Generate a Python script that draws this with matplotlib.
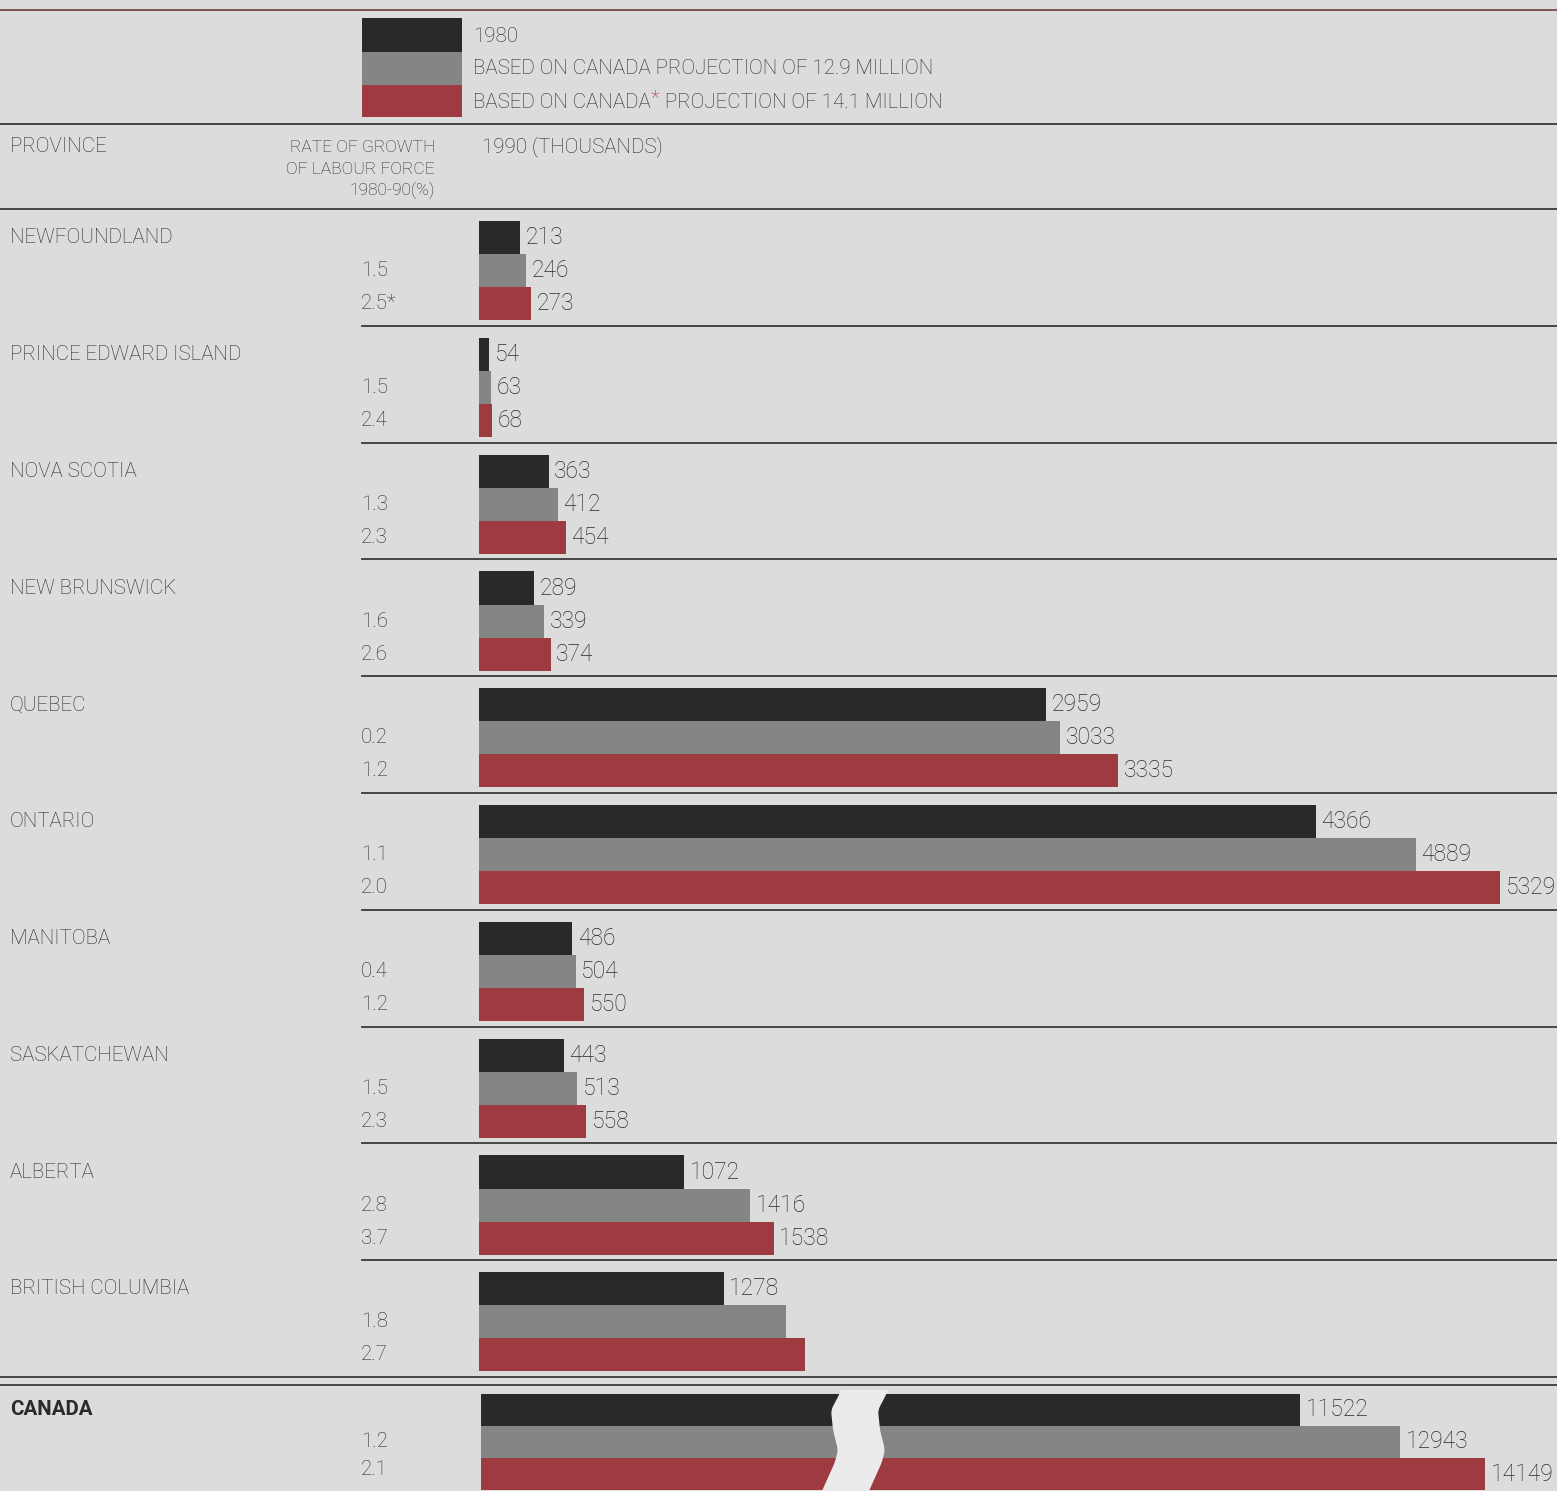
import numpy as np
import matplotlib.pyplot as plt
from matplotlib.patches import Rectangle, Polygon
from matplotlib.lines import Line2D

# -----------------------------
# data (thousands)
# -----------------------------
provinces = ["NEWFOUNDLAND", "PRINCE EDWARD ISLAND", "NOVA SCOTIA", "NEW BRUNSWICK",
             "QUEBEC", "ONTARIO", "MANITOBA", "SASKATCHEWAN", "ALBERTA", "BRITISH COLUMBIA"]
lf_1980 = [213, 54, 363, 289, 2959, 4366, 486, 443, 1072, 1278]
lf_1990_low = [246, 63, 412, 339, 3033, 4889, 504, 513, 1416, 1600]
lf_1990_high = [273, 68, 454, 374, 3335, 5329, 550, 558, 1538, 1700]
# BC projections are not printed in the source
show_low = [True] * 9 + [False]
show_high = [True] * 9 + [False]
rate_low = ["1.5", "1.5", "1.3", "1.6", "0.2", "1.1", "0.4", "1.5", "2.8", "1.8"]
rate_high = ["2.5*", "2.4", "2.3", "2.6", "1.2", "2.0", "1.2", "2.3", "3.7", "2.7"]

canada_vals = [11522, 12943, 14149]
canada_rates = ["1.2", "2.1"]

legend_labels = ["1980", "BASED ON CANADA PROJECTION OF 12.9 MILLION",
                 "BASED ON CANADA", "*", " PROJECTION OF 14.1 MILLION"]

# -----------------------------
# style
# -----------------------------
W, H = 1557, 1491
bg = "#dddcdc"
c_black = "#2b2829"
c_gray = "#868585"
c_red = "#9d3b40"
c_text = "#2a2a2a"
colors = [c_black, c_gray, c_red]

plt.rcParams['font.family'] = ['Roboto', 'DejaVu Sans']
plt.rcParams['font.weight'] = 'light'
fs = 14.8
fs_val = 16.5


def fx(px):
    return px / W


def fy(py):
    return 1 - py / H


fig = plt.figure(figsize=(W / 100, H / 100), dpi=100, facecolor=bg)


def rule(x0, x1, y, lw=1.3, color="#3a3a3a"):
    fig.add_artist(Line2D([fx(x0), fx(x1)], [fy(y), fy(y)], color=color, lw=lw,
                          transform=fig.transFigure))


# rules
rule(0, W, 10, lw=1.2, color="#6e3a3f")
rule(0, W, 124)
rule(0, W, 209)
top, pitch = 209, 116.8
for i in range(9):
    rule(362, W, top + (i + 1) * pitch)
rule(0, W, 1377)
rule(0, W, 1385)

# -----------------------------
# province bars
# -----------------------------
offs = [0.245, 0.528, 0.811]
bh = 0.283
ax = fig.add_axes([fx(479), fy(1377), fx(W) - fx(479), (1377 - 209) / H])
ax.set_xlim(0, 5626)
ax.set_ylim(10, 0)
ax.axis('off')

series = [lf_1980, lf_1990_low, lf_1990_high]
shows = [[True] * 10, show_low, show_high]
for k in range(3):
    ypos = np.arange(10) + offs[k]
    ax.barh(ypos, series[k], height=bh, color=colors[k], edgecolor='none')
    for i, v in enumerate(series[k]):
        if shows[k][i]:
            ax.annotate(str(v), xy=(v, ypos[i]), xytext=(4, 0), textcoords='offset points',
                        va='center', ha='left', fontsize=fs_val, color=c_text)

for i, name in enumerate(provinces):
    fig.text(fx(10), fy(top + (i + offs[0]) * pitch), name, fontsize=fs, color=c_text, va='center')
    fig.text(fx(361), fy(top + (i + offs[1]) * pitch), rate_low[i], fontsize=fs, color=c_text, va='center')
    fig.text(fx(361), fy(top + (i + offs[2]) * pitch), rate_high[i], fontsize=fs, color=c_text, va='center')

# -----------------------------
# legend
# -----------------------------
for k, (y0, y1) in enumerate([(18, 52), (52, 85), (85, 117)]):
    fig.add_artist(Rectangle((fx(362), fy(y1)), fx(462) - fx(362), (y1 - y0) / H,
                             transform=fig.transFigure, facecolor=colors[k], edgecolor='none'))
fig.text(fx(473), fy(36), legend_labels[0], fontsize=fs, color=c_text, va='center')
fig.text(fx(473), fy(69), legend_labels[1], fontsize=fs, color=c_text, va='center')
t1 = fig.text(fx(473), fy(102), legend_labels[2], fontsize=fs, color=c_text, va='center')
ax.annotate(legend_labels[3], xy=(1, 0.7), xycoords=t1, va='center', fontsize=fs,
            color=c_red, annotation_clip=False)
ax.annotate(legend_labels[4], xy=(1, 0), xycoords=t1, xytext=(7, 0), textcoords='offset points',
            va='bottom', fontsize=fs, color=c_text, annotation_clip=False)

# header
fig.text(fx(10), fy(147), "PROVINCE", fontsize=fs, color=c_text, va='center')
for txt, yy in zip(["RATE OF GROWTH", "OF LABOUR FORCE", "1980-90(%)"], [147, 169, 190]):
    fig.text(fx(435), fy(yy), txt, fontsize=12.5, color=c_text, va='center', ha='right')
fig.text(fx(482), fy(147), "1990 (THOUSANDS)", fontsize=fs, color=c_text, va='center')

# -----------------------------
# Canada (broken axis)
# -----------------------------
c_top = 1385
c_offs = [0.214, 0.488, 0.762]
c_h = 0.275
ylim_c = (H - c_top) / pitch
slope = 0.0705  # px per thousand on the right part
r_left, r_right = 850, W
r_x0 = canada_vals[0] - (1300 - r_left) / slope
r_x1 = r_x0 + (r_right - r_left) / slope

axl = fig.add_axes([fx(481), 0, fx(860) - fx(481), (H - c_top) / H])
axl.set_xlim(0, (860 - 481) / slope)
axr = fig.add_axes([fx(r_left), 0, fx(r_right) - fx(r_left), (H - c_top) / H])
axr.set_xlim(r_x0, r_x1)
for a in (axl, axr):
    a.set_ylim(ylim_c, 0)
    a.axis('off')
    for k in range(3):
        a.barh(c_offs[k], canada_vals[k], height=c_h, color=colors[k], edgecolor='none')
for k in range(3):
    axr.annotate(str(canada_vals[k]), xy=(canada_vals[k], c_offs[k]), xytext=(4, 0),
                 textcoords='offset points', va='center', ha='left', fontsize=fs_val, color=c_text)

fig.text(fx(10), fy(c_top + c_offs[0] * pitch), "CANADA", fontsize=fs, color=c_text,
         va='center', fontweight='bold')
fig.text(fx(361), fy(c_top + c_offs[1] * pitch), canada_rates[0], fontsize=fs, color=c_text, va='center')
fig.text(fx(361), fy(c_top + 0.72 * pitch), canada_rates[1], fontsize=fs, color=c_text, va='center')

# white wavy break
wy = np.array([1390, 1395, 1410, 1430, 1450, 1462, 1491])
wx = np.array([841, 839, 831, 833, 838, 835, 822])
yy = np.linspace(1390, 1491, 80)
left = np.convolve(np.interp(yy, wy, wx), np.ones(7) / 7, mode='same')
left[:3] = np.interp(yy[:3], wy, wx)
left[-3:] = np.interp(yy[-3:], wy, wx)
right = left + 47
pts = [(fx(x), fy(y)) for x, y in zip(left, yy)] + [(fx(x), fy(y)) for x, y in zip(right[::-1], yy[::-1])]
fig.add_artist(Polygon(pts, closed=True, transform=fig.transFigure, facecolor="#ebebeb",
                       edgecolor='none', zorder=10))

fig.savefig("out.png", dpi=100, facecolor=bg)
